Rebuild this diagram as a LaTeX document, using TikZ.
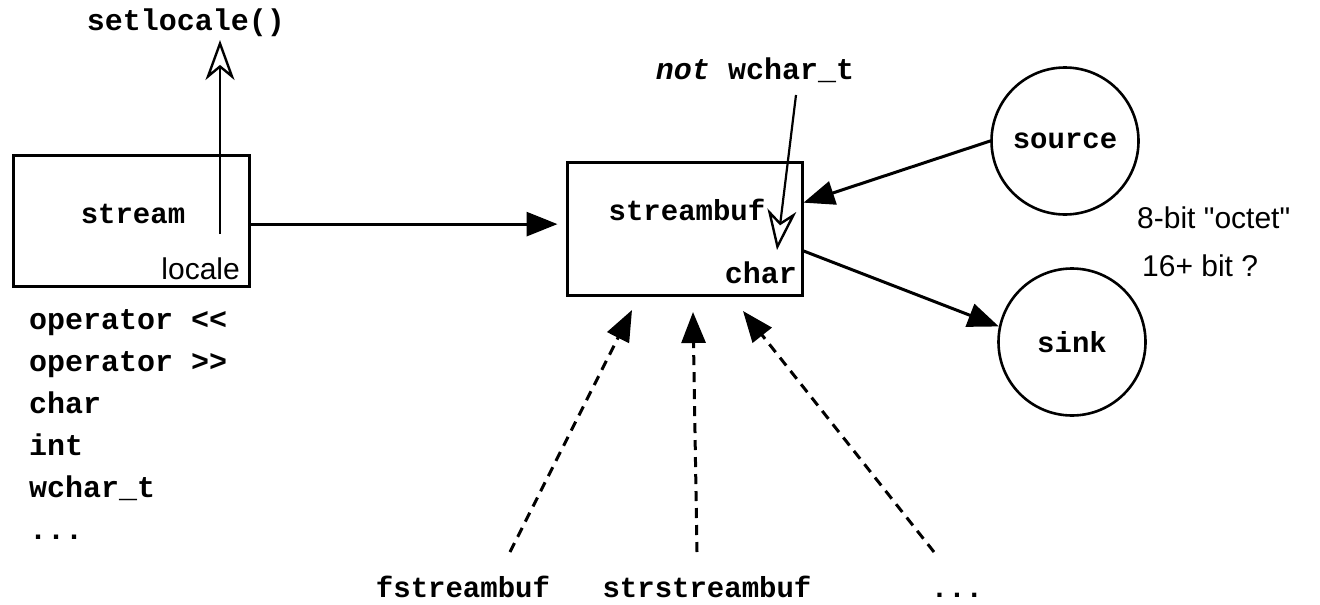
\documentclass[tikz,border=0pt]{standalone}
\usepackage{fontspec}
\setmonofont{Liberation Mono}
\setsansfont{Liberation Sans}
\newfontfamily\plainsans{Liberation Sans}
\usetikzlibrary{arrows.meta,calc}
\begin{document}
\begin{tikzpicture}[x=1pt,y=-1pt,
  code/.style={font=\fontsize{30}{30}\selectfont\ttfamily\bfseries, inner sep=0pt},
  lbl/.style={font=\fontsize{29}{29}\selectfont\ttfamily\bfseries, inner sep=0pt},
  sans/.style={font=\fontsize{30}{30}\selectfont\plainsans, inner sep=0pt},
  box/.style={draw, line width=3pt, inner sep=0pt},
  ball/.style={draw, circle, line width=2.6pt, minimum size=147pt, inner sep=0pt,
    font=\fontsize{29}{29}\selectfont\ttfamily\bfseries},
  conn/.style={line width=3pt, -{Triangle[length=31pt,width=24pt]}},
  dconn/.style={conn, dash pattern=on 10pt off 7pt},
  hollow/.style={line width=2.2pt, -{Stealth[open, length=40pt, width=29pt, inset=12pt, line width=2.4pt]}}
]
\useasboundingbox (0,0) rectangle (1320,605);

% stream box
\node[box, minimum width=236pt, minimum height=131pt] (stbox) at (131,220.5) {};
\node[lbl, anchor=base] (stream) at (133,223) {stream};
\node[sans, anchor=base east] (locale) at (240,279) {locale};
\node[code, anchor=base] (setloc) at (186,30) {setlocale()};
\coordinate (slfrom) at (220,234);
\coordinate (slto) at (220,40);
\draw[hollow] (slfrom) -- (slto);

% list below stream
\node[code, anchor=base west] (l1) at (29,329) {operator <<};
\node[code, anchor=base west] (l2) at (29,371) {operator >>};
\node[code, anchor=base west] (l3) at (29,413) {char};
\node[code, anchor=base west] (l4) at (29,455) {int};
\node[code, anchor=base west] (l5) at (29,497) {wchar\_t};
\node[code, anchor=base west] (l6) at (29,539) {...};

% streambuf box
\node[box, minimum width=235pt, minimum height=133pt] (sbbox) at (684.5,228.5) {};
\node[lbl, anchor=base] (sbtext) at (687,220) {streambuf};
\node[code, anchor=base east] (char) at (797,283) {char};
\node[code, anchor=base] (nw) at (755,79) {\itshape not\upshape{} wchar\_t};
\coordinate (nwfrom) at (796,95);
\coordinate (nwto) at (777,250);
\draw[hollow] (nwfrom) -- (nwto);

% stream -> streambuf
\draw[conn, shorten >=8pt] ($(stbox.north east)!0.527!(stbox.south east)$) coordinate (h1) -- (h1 -| sbbox.west);

% source / sink
\node[ball] (src) at (1065,141) {source};
\node[ball] (snk) at (1072,342) {sink};
\draw[conn] (src.180) -- ($(sbbox.north east)!0.31!(sbbox.south east)$);
\draw[conn] ($(sbbox.north east)!0.665!(sbbox.south east)$) -- (snk.168);
\node[sans, anchor=base west] (octet) at (1137,228) {8-bit "octet"};
\node[sans, anchor=base west] (bit16) at (1142,276) {16+ bit ?};

% derived classes
\node[lbl, anchor=base] (fsb) at (463,597) {fstreambuf};
\node[lbl, anchor=base] (ssb) at (707,597) {strstreambuf};
\node[lbl, anchor=base] (dots) at (957,597) {...};
\coordinate (f0) at (510,552);
\coordinate (f1) at (632,310);
\coordinate (s0) at (697,552);
\coordinate (s1) at (693,312);
\coordinate (d0) at (934,552);
\coordinate (d1) at (743,311);
\draw[dconn] (f0) -- (f1);
\draw[dconn] (s0) -- (s1);
\draw[dconn] (d0) -- (d1);
\end{tikzpicture}
\end{document}
